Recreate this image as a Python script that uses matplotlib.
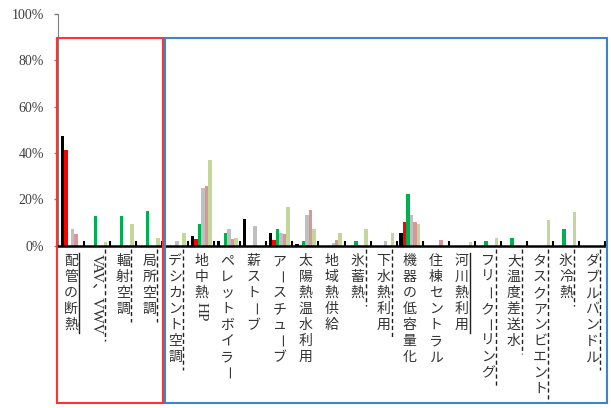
import matplotlib
matplotlib.use("Agg")
import matplotlib.pyplot as plt
import matplotlib.transforms as mtransforms
from matplotlib.lines import Line2D
from matplotlib.patches import Rectangle
import numpy as np

categories = [
    "配管の断熱", "VAV、VWV", "輻射空調", "局所空調", "デシカント空調",
    "地中熱HP", "ペレットボイラー", "薪ストーブ", "アースチューブ", "太陽熱温水利用",
    "地域熱供給", "氷蓄熱", "下水熱利用", "機器の低容量化", "住棟セントラル",
    "河川熱利用", "フリークーリング", "大温度差送水", "タスクアンビエント", "氷冷熱",
    "ダブルバンドル",
]

# share of answers (%) per category, one list per series
black = [47.5, 0, 0, 0, 0, 4.1, 2.0, 11.5, 5.5, 0.9, 0, 0, 0, 5.5, 0, 0, 0, 0, 0, 0, 0]
red = [41.2, 0, 0, 0, 0, 2.7, 0, 0, 2.4, 0, 0, 0, 0, 10.3, 0, 0, 0, 0, 0, 0, 0]
green = [0, 12.9, 12.9, 14.9, 0, 9.3, 5.5, 0, 7.2, 2.0, 0, 2.0, 0, 22.2, 0, 0, 2.0, 3.5, 0, 7.2, 0]
gray = [7.1, 0, 0, 0, 2.1, 24.9, 7.2, 8.5, 5.5, 13.2, 1.2, 0.5, 2.0, 13.2, 0, 0, 0, 0, 0, 0, 0]
pink = [5.1, 0, 0, 0, 0, 25.6, 2.7, 0, 5.1, 15.3, 2.4, 0, 0, 10.3, 2.4, 0, 0, 0, 0, 0, 0]
lightgreen = [0, 1.8, 9.3, 3.5, 5.5, 36.8, 3.5, 0, 16.6, 7.2, 5.5, 7.2, 5.5, 9.3, 0, 1.8, 3.5, 0, 11.0, 14.7, 0]

yticks = [0, 20, 40, 60, 80, 100]

# label underline style: solid / dashed
underline = {0: "-", 1: "--", 2: "--", 3: "--", 4: "--", 11: "--", 12: "--",
             15: "-", 16: "--", 17: "--", 18: "--", 19: "--", 20: "--"}

series = [black, red, green, gray, pink, lightgreen]
colors = ["#000000", "#FF0000", "#00B050", "#BFBFBF", "#DA9694", "#C4D79B"]

JP = ["Noto Sans CJK JP", "DejaVu Sans"]
SERIF = ["Liberation Serif", "Noto Sans CJK JP"]

fig = plt.figure(figsize=(6.11, 4.08), dpi=100)
ax = fig.add_axes([58 / 611, 1 - 245.7 / 408, 547 / 611, 231.7 / 408])

x = np.arange(len(categories))
w = 0.8 / len(series)
for i, (vals, c) in enumerate(zip(series, colors)):
    ax.bar(x + (i - 2.5) * w, vals, width=w, color=c, linewidth=0, zorder=2)

ax.set_xlim(-0.5, len(categories) - 0.5)
ax.set_ylim(0, 100)
ax.set_yticks(yticks)
ax.set_yticklabels([f"{v}%" for v in yticks], family=SERIF, fontsize=10, color="#404040")
ax.set_xticks(np.arange(-0.5, len(categories), 1))
ax.set_xticklabels([])
ax.tick_params(axis="x", direction="in", length=3.3, width=1.5, color="black")
ax.tick_params(axis="y", direction="out", length=3, width=1, color="#7F7F7F", pad=7)
for s in ["top", "right"]:
    ax.spines[s].set_visible(False)
ax.spines["left"].set_color("#7F7F7F")
ax.spines["bottom"].set_color("black")
ax.spines["bottom"].set_linewidth(1.8)
ax.spines["bottom"].set_zorder(3)

# vertical category labels, written top to bottom
renderer = fig.canvas.get_renderer()
step = 16
top = 7.5
base = ax.transAxes.transform((0, 0))[1]


def runs(text):
    out = []
    for ch in text:
        kind = "r" if (ch.isascii() or ch == "、") else "u"
        if out and out[-1][0] == kind:
            out[-1][1] += ch
        else:
            out.append([kind, ch])
    return out


for k, label in enumerate(categories):
    y = top
    for kind, s in runs(label):
        if kind == "u":
            for ch in s:
                rot = -90 if ch == "ー" else 0
                ax.annotate(ch, xy=(k, 0), xycoords=("data", "axes fraction"),
                            xytext=(0, -(y + step / 2)), textcoords="offset pixels",
                            ha="center", va="center", rotation=rot,
                            family=JP, fontsize=10, color="#333333")
                y += step
        else:
            t = ax.annotate(s, xy=(k, 0), xycoords=("data", "axes fraction"),
                            xytext=(0, -(y + 1)), textcoords="offset pixels",
                            ha="center", va="top", rotation=-90,
                            family=SERIF, fontsize=11, color="#333333")
            y += t.get_window_extent(renderer).height + 2
    if k in underline:
        px = ax.transData.transform((k, 0))[0] + 8
        ls = underline[k]
        y0 = top if ls == "-" else top - 4
        y1 = y + (0 if ls == "-" else 5)
        fig.add_artist(Line2D([px, px], [base - y0, base - y1], color="#202020",
                              lw=1, ls=ls, dashes=(3, 2) if ls == "--" else (None, None),
                              transform=mtransforms.IdentityTransform()))

# grouping frames around the label blocks
trans = mtransforms.blended_transform_factory(ax.transData, ax.transAxes)
ax.add_patch(Rectangle((-0.53, -0.681), 4.07, 1.577, transform=trans, fill=False,
                       edgecolor="#FF3333", lw=1.5, clip_on=False, zorder=4))
ax.add_patch(Rectangle((3.61, -0.681), 16.95, 1.577, transform=trans, fill=False,
                       edgecolor="#3B86C8", lw=1.5, clip_on=False, zorder=4))

fig.savefig("out.png", dpi=100)
